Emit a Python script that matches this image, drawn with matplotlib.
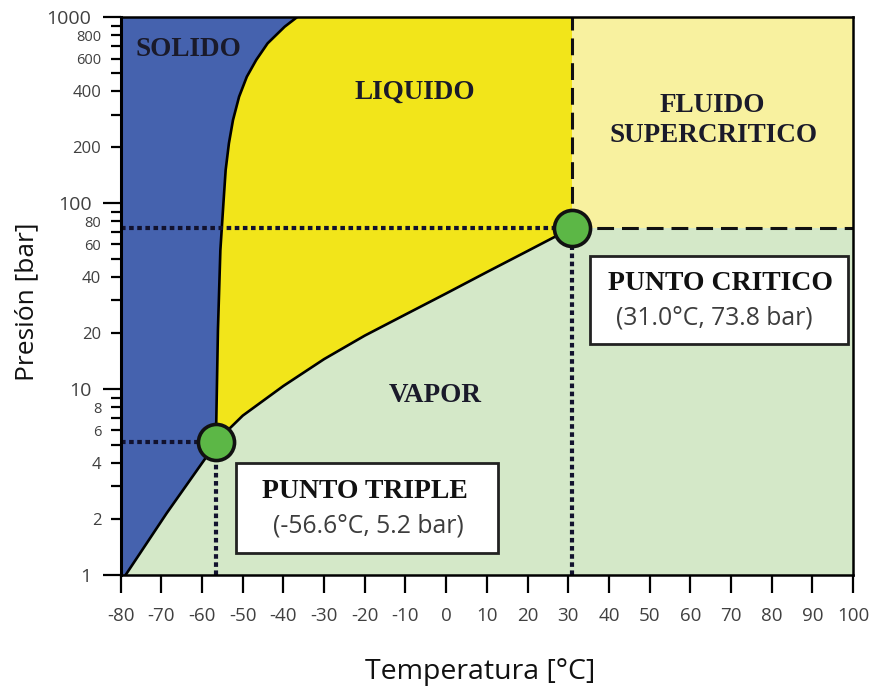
import matplotlib
matplotlib.use("Agg")
import matplotlib.pyplot as plt
from matplotlib.patches import Rectangle

# ---- phase-boundary data for CO2 (temperature in degC, pressure in bar) ----
melt_T = [-56.6, -56.1, -55.5, -54.7, -54.2, -53.4, -52.4, -50.9, -49.0, -46.7, -43.9, -39.7, -36.7]
melt_P = [5.2, 20.8, 56, 104, 151, 210, 280, 374, 479, 589, 724, 890, 1000]

subl_T = [-78.8, -68.7, -58.9, -56.6]
subl_P = [1.0, 2.15, 4.33, 5.2]

vap_T = [-56.6, -50, -40, -30, -20, -10, 0, 10, 20, 31.0]
vap_P = [5.2, 7.2, 10.4, 14.5, 19.4, 25.2, 32.7, 42.6, 55.3, 73.8]

triple_T, triple_P = -56.6, 5.2
crit_T, crit_P = 31.0, 73.8

x_min, x_max = -80, 100
p_min, p_max = 1, 1000

x_ticks = list(range(-80, 101, 10))
x_tick_labels = [str(v) for v in x_ticks]
y_major = [1, 10, 100, 1000]
y_minor = [2, 3, 4, 5, 6, 7, 8, 9, 20, 30, 40, 50, 60, 70, 80, 90,
           200, 300, 400, 500, 600, 700, 800, 900]
y_minor_labelled = [2, 4, 6, 8, 20, 40, 60, 80, 200, 400, 600, 800]
y_small_labels = [6, 8, 60, 80, 600, 800]

region_labels = ["SOLIDO", "LIQUIDO", "FLUIDO", "SUPERCRITICO", "VAPOR"]
triple_title = "PUNTO TRIPLE"
triple_text = "(-56.6°C, 5.2 bar)"
crit_title = "PUNTO CRITICO"
crit_text = "(31.0°C, 73.8 bar)"

# ---- colours ----
VAPOR_C = "#d4e8c8"
SOLID_C = "#4562ae"
LIQ_C = "#f2e51a"
SUPER_C = "#f8f19f"
MARK_C = "#5cb746"
DOT_C = "#12122e"
LABEL_C = "#1a1a2a"
TICK_C = "#404040"

W, H = 873, 690
fig = plt.figure(figsize=(W / 100, H / 100), dpi=100)


def fx(x):
    return x / W


def fy(y):
    return 1 - y / H


ax = fig.add_axes([fx(120.7), fy(575), (853 - 120.7) / W, (575 - 17.3) / H])
ax.set_yscale("log")
ax.set_xlim(x_min, x_max)
ax.set_ylim(p_min, p_max)
ax.set_facecolor(VAPOR_C)

# solid region: left edge, top edge, melting curve down, sublimation curve down
solid_x = [x_min, x_min] + melt_T[::-1] + subl_T[::-1]
solid_y = [p_min, p_max] + melt_P[::-1] + subl_P[::-1]
ax.fill(solid_x, solid_y, color=SOLID_C, lw=0, zorder=1)

# liquid region: melting curve up, top edge to critical temperature, vapour curve back
liq_x = melt_T + [crit_T, crit_T] + vap_T[::-1]
liq_y = melt_P + [p_max, crit_P] + vap_P[::-1]
ax.fill(liq_x, liq_y, color=LIQ_C, lw=0, zorder=1)

# supercritical fluid
ax.fill_between([crit_T, x_max], crit_P, p_max, color=SUPER_C, lw=0, zorder=1)

# phase boundaries
for xs, ys in [(melt_T, melt_P), (subl_T, subl_P), (vap_T, vap_P)]:
    ax.plot(xs, ys, color="black", lw=1.9, zorder=3, solid_capstyle="round",
            solid_joinstyle="round")

# dotted guide lines
dot = dict(color=DOT_C, lw=3.0, linestyle=(0, (1.1, 0.85)), dash_capstyle="butt", zorder=4)
ax.plot([x_min, crit_T], [crit_P, crit_P], **dot)
ax.plot([x_min, triple_T], [triple_P, triple_P], **dot)
ax.plot([triple_T, triple_T], [p_min, triple_P], **dot)
ax.plot([crit_T, crit_T], [p_min, crit_P], **dot)

# dashed supercritical boundaries
dash = dict(color="#111111", lw=2.2, linestyle=(0, (5.5, 2.6)), dash_capstyle="butt", zorder=4)
ax.plot([crit_T, crit_T], [crit_P, p_max], **dash)
ax.plot([crit_T, x_max], [crit_P, crit_P], **dash)

# triple and critical points
ax.plot([triple_T, crit_T], [triple_P, crit_P], "o", ms=26, mfc=MARK_C, mec="#111111",
        mew=2.6, zorder=6, clip_on=False)

# spines and ticks
for s in ax.spines.values():
    s.set_linewidth(1.8)
    s.set_color("black")
    s.set_zorder(7)
ax.spines["left"].set_linewidth(2.2)

ax.set_xticks(x_ticks)
ax.set_xticklabels(x_tick_labels)
ax.tick_params(axis="x", direction="out", length=13, width=1.6, pad=10,
               labelsize=13.5, labelcolor=TICK_C)

ax.set_yticks(y_major)
ax.set_yticklabels([str(v) for v in y_major])
ax.set_yticks(y_minor, minor=True)
ax.set_yticklabels([str(v) if v in y_minor_labelled else "" for v in y_minor], minor=True)
ax.tick_params(axis="y", which="major", direction="out", length=13, width=1.6, pad=8,
               labelsize=14, labelcolor=TICK_C)
ax.tick_params(axis="y", which="minor", direction="out", length=7, width=1.6, pad=7,
               labelsize=12, labelcolor=TICK_C)
ax.tick_params(axis="x", which="minor", bottom=False)
for lab, v in zip(ax.get_yticklabels(minor=True), y_minor):
    if v in y_small_labels:
        lab.set_fontsize(10.5)

for lab in ax.get_xticklabels() + ax.get_yticklabels() + ax.get_yticklabels(minor=True):
    lab.set_fontfamily("Open Sans")

# axis titles
fig.text(fx(480), fy(672), "Temperatura [°C]", ha="center", va="center",
         fontsize=20.5, family="Open Sans", color="#111111")
fig.text(fx(27), fy(302), "Presión [bar]", ha="center", va="center", rotation=90,
         fontsize=19, family="Open Sans", color="#111111")

# region names
serif = dict(family="Liberation Serif", fontweight="bold", fontsize=19.5, color=LABEL_C,
             ha="center", va="baseline")
fig.text(fx(188), fy(56), region_labels[0], **serif)
fig.text(fx(415), fy(99), region_labels[1], **serif)
fig.text(fx(712), fy(112), region_labels[2], **serif)
fig.text(fx(714), fy(142), region_labels[3], **serif)
fig.text(fx(435), fy(402), region_labels[4], **serif)

# annotation boxes
for (x0, y0, x1, y1) in [(236, 462.5, 498, 553), (590, 255.5, 848, 344)]:
    fig.add_artist(Rectangle((fx(x0), fy(y1)), (x1 - x0) / W, (y1 - y0) / H,
                             transform=fig.transFigure, fc="white", ec="#222222",
                             lw=2.0, zorder=8))

box_title = dict(family="Liberation Serif", fontweight="bold", fontsize=20, color="#111111",
                 ha="center", va="baseline", zorder=9)
box_text = dict(family="Open Sans", fontsize=17.8, color="#3d3d3d",
                ha="center", va="center", zorder=9)
fig.text(fx(365), fy(498), triple_title, **box_title)
fig.text(fx(368), fy(526), triple_text, **box_text)
fig.text(fx(720), fy(290), crit_title, **box_title)
fig.text(fx(714), fy(318), crit_text, **box_text)

fig.savefig("out.png", dpi=100)
